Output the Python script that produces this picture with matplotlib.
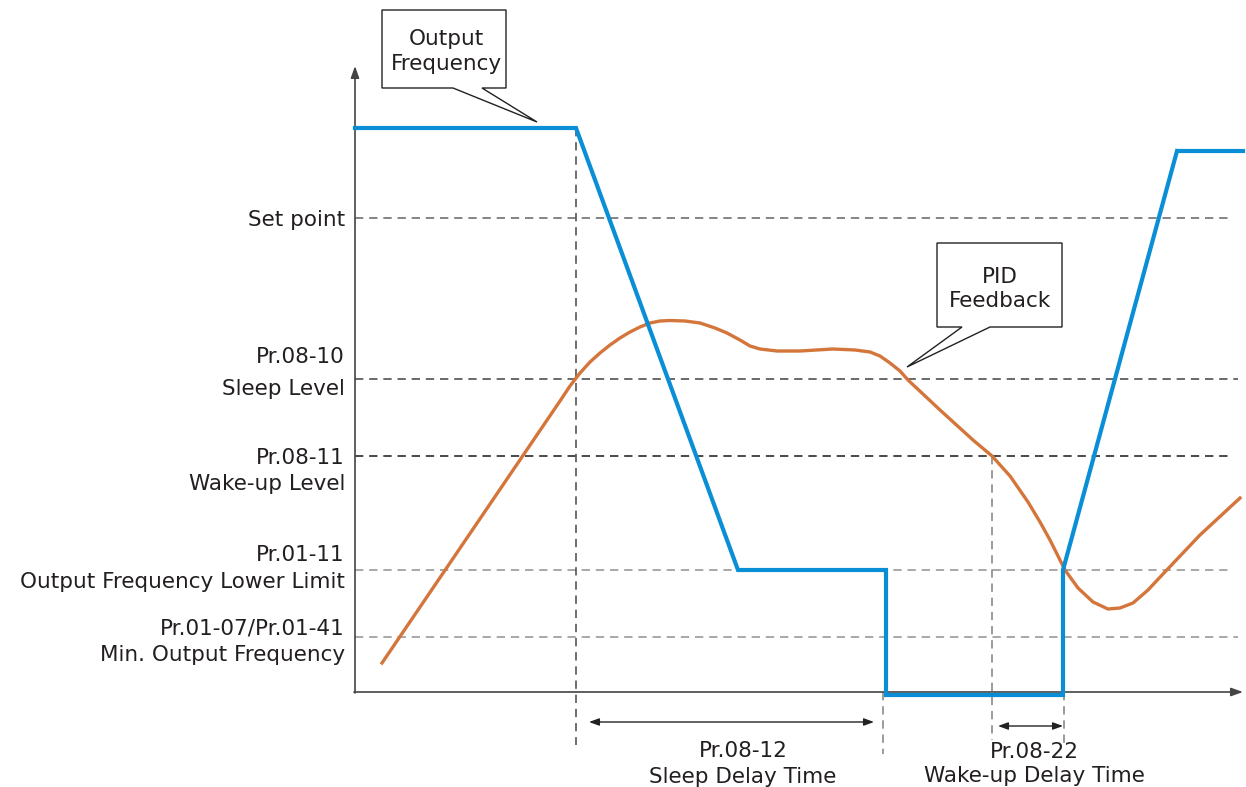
#!/usr/bin/env python3
"""
Sleep / wake-up timing chart: output frequency vs PID feedback.
Drawn in picture (pixel) units so the layout follows the reference.
"""

import matplotlib.pyplot as plt
from matplotlib.patches import Polygon

BLUE = "#0a8fd6"
ORANGE = "#d4763b"
TEXT = "#231f20"

# output frequency trace
freq_x = [355, 576, 738, 886, 886, 1063, 1063, 1177]
freq_y = [128, 128, 570, 570, 695, 695, 570, 151]
freq_top_x = [1179, 1243]
freq_top_y = [151, 151]

# PID feedback trace
pid_x = [382, 560, 570, 580, 590, 600, 610, 620, 630, 640, 650, 660, 670,
         685, 700, 715, 727, 740, 750, 760, 777, 800, 833, 855, 870, 880,
         890, 900, 908, 940, 973, 992, 1010, 1028, 1040, 1050, 1065, 1078,
         1093, 1108, 1120, 1133, 1148, 1163, 1200, 1240]
pid_y = [663, 401, 386, 373, 362, 353, 345, 338, 332, 327, 323, 321, 320.5,
         321, 323, 328, 333, 340, 346, 349, 351, 351, 349, 350, 352, 356,
         363, 371, 380, 410, 440, 456, 476, 502, 522, 540, 570, 588,
         602, 609, 608, 603, 590, 574, 535, 498]

# horizontal reference levels: y, x end, colour
level_y = [218, 379, 456, 570, 637]
level_end = [1232, 1238, 1232, 1232, 1238]
level_color = ["#707070", "#505050", "#2a2a2a", "#9a9a9a", "#9a9a9a"]
level_labels = [
    ["Set point"],
    ["Pr.08-10", "Sleep Level"],
    ["Pr.08-11", "Wake-up Level"],
    ["Pr.01-11", "Output Frequency Lower Limit"],
    ["Pr.01-07/Pr.01-41", "Min. Output Frequency"],
]
label_baselines = [[226], [363, 395], [464, 490], [561, 588], [635, 661]]

# vertical time markers: x, y top, y bottom, colour
mark_x = [576, 883, 992, 1064]
mark_top = [128, 692, 456, 692]
mark_bot = [745, 754, 740, 744]
mark_color = ["#555555", "#8a8a8a", "#8a8a8a", "#8a8a8a"]

# delay spans
span_x0 = [589, 998]
span_x1 = [874, 1063]
span_y = [722, 726]
span_labels = [["Pr.08-12", "Sleep Delay Time"], ["Pr.08-22", "Wake-up Delay Time"]]
span_text_x = [743, 1034]
span_baselines = [[757, 783], [758, 782]]


def callout(ax, pts, lines, cx, baselines):
    ax.add_patch(Polygon(pts, closed=True, facecolor="white",
                         edgecolor="#222222", lw=1.0, zorder=6))
    for s, b in zip(lines, baselines):
        ax.text(cx, b, s, ha="center", va="baseline", fontsize=15.5,
                color=TEXT, zorder=7)


def main():
    fig = plt.figure(figsize=(12.46, 7.87), dpi=100)
    ax = fig.add_axes([0, 0, 1, 1])
    ax.set_xlim(0, 1246)
    ax.set_ylim(787, 0)
    ax.axis("off")

    # reference levels and labels
    for y, xe, c, labs, bls in zip(level_y, level_end, level_color,
                                   level_labels, label_baselines):
        ax.plot([355, xe], [y, y], color=c, lw=1.2, dashes=(5, 3.5), zorder=2)
        for s, b in zip(labs, bls):
            ax.text(345, b, s, ha="right", va="baseline", fontsize=15.5,
                    color=TEXT)

    # vertical markers
    for x, yt, yb, c in zip(mark_x, mark_top, mark_bot, mark_color):
        ax.plot([x, x], [yt, yb], color=c, lw=1.2, dashes=(5, 3.5), zorder=2)

    # axes with arrow heads
    ax.annotate("", xy=(355, 66), xytext=(355, 693),
                arrowprops=dict(arrowstyle="-|>,head_length=0.7,head_width=0.25",
                                color="#444444", lw=1.2, shrinkA=0, shrinkB=0))
    ax.annotate("", xy=(1243, 692), xytext=(354, 692),
                arrowprops=dict(arrowstyle="-|>,head_length=0.7,head_width=0.25",
                                color="#444444", lw=1.2, shrinkA=0, shrinkB=0))

    # traces
    ax.plot(pid_x, pid_y, color=ORANGE, lw=2.4, solid_joinstyle="round",
            zorder=3)
    ax.plot(freq_x, freq_y, color=BLUE, lw=3, solid_joinstyle="miter",
            zorder=4)
    ax.plot(freq_top_x, freq_top_y, color=BLUE, lw=3, zorder=4)

    # delay spans
    for x0, x1, y, labs, tx, bls in zip(span_x0, span_x1, span_y,
                                        span_labels, span_text_x,
                                        span_baselines):
        ax.annotate("", xy=(x1, y), xytext=(x0, y),
                    arrowprops=dict(arrowstyle="<|-|>,head_length=0.6,head_width=0.22",
                                    color="#222222", lw=1.0,
                                    shrinkA=0, shrinkB=0))
        for s, b in zip(labs, bls):
            ax.text(tx, b, s, ha="center", va="baseline", fontsize=15.5,
                    color=TEXT)

    # callouts
    callout(ax, [(382, 10), (506, 10), (506, 88), (482, 88), (537, 122),
                 (453, 88), (382, 88)],
            ["Output", "Frequency"], 446, [45, 70])
    callout(ax, [(937, 243), (1062, 243), (1062, 327), (990, 327),
                 (907, 367), (962, 327), (937, 327)],
            ["PID", "Feedback"], 1000, [283, 307])

    fig.savefig("out.png", dpi=100)


if __name__ == "__main__":
    main()
